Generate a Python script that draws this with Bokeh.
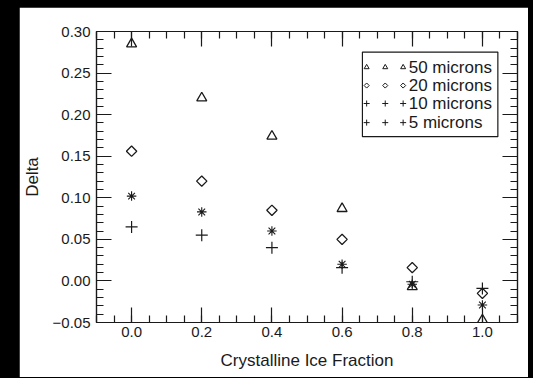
import numpy as np
from bokeh.plotting import figure
from bokeh.models import FixedTicker, LinearAxis, CustomJSTickFormatter, Range1d
from bokeh.core.properties import value
from bokeh.embed import file_html
from bokeh.resources import INLINE

# ---- data ----
ice_fraction = [0.0, 0.2, 0.4, 0.6, 0.8, 1.0]
delta_50 = [0.285, 0.220, 0.174, 0.087, -0.007, -0.047]
delta_20 = [0.156, 0.120, 0.085, 0.050, 0.016, -0.015]
delta_10 = [0.102, 0.083, 0.060, 0.020, -0.004, -0.029]
delta_5 = [0.065, 0.055, 0.040, 0.016, -0.001, -0.009]
legend_labels = ["50 microns", "20 microns", "10 microns", "5 microns"]
x_ticks = [0.0, 0.2, 0.4, 0.6, 0.8, 1.0]
y_ticks = [-0.05, 0.0, 0.05, 0.10, 0.15, 0.20, 0.25, 0.30]

FONT = "Liberation Sans"
INK = "#1a1a1a"

p = figure(width=509, height=370,
           min_border_left=76, min_border_right=11, min_border_top=24, min_border_bottom=55,
           x_range=Range1d(-0.1, 1.1), y_range=Range1d(-0.05, 0.30),
           output_backend="svg", toolbar_location=None,
           background_fill_color="white", border_fill_color="white")
p.margin = (7, 0, 0, 19)
p.grid.visible = False
p.outline_line_color = INK
p.outline_line_width = 1.2

xminor = [round(v, 2) for v in np.arange(-0.1, 1.1001, 0.05)]
yminor = [round(v, 2) for v in np.arange(-0.05, 0.3001, 0.01)]
xt = FixedTicker(ticks=x_ticks, minor_ticks=xminor)
yt = FixedTicker(ticks=y_ticks, minor_ticks=yminor)

fmt = CustomJSTickFormatter(code="return tick.toFixed(2).replace('-', '\u2212');")
xfmt = CustomJSTickFormatter(code="return tick.toFixed(1).replace('-', '\u2212');")
blank = CustomJSTickFormatter(code="return '';")

def style(ax):
    ax.axis_line_color = INK
    ax.axis_line_width = 1.2
    ax.major_tick_line_color = INK
    ax.minor_tick_line_color = INK
    ax.major_tick_line_width = 1.2
    ax.minor_tick_line_width = 1.2
    ax.major_tick_in = 15
    ax.major_tick_out = 0
    ax.minor_tick_in = 7
    ax.minor_tick_out = 0
    ax.major_label_text_font = FONT
    ax.major_label_text_font_size = "15px"
    ax.major_label_text_color = INK
    ax.axis_label_text_font = FONT
    ax.axis_label_text_font_size = "17px"
    ax.axis_label_text_font_style = "normal"
    ax.axis_label_text_color = INK

p.xaxis.ticker = xt
p.yaxis.ticker = yt
p.xaxis.formatter = xfmt
p.yaxis.formatter = fmt
p.xaxis.axis_label = "Crystalline Ice Fraction"
p.yaxis.axis_label = "Delta"
style(p.xaxis[0])
style(p.yaxis[0])
p.xaxis.major_label_standoff = 4
p.xaxis.axis_label_standoff = 11
p.yaxis.major_label_standoff = 6
p.yaxis.axis_label_standoff = 8

top = LinearAxis(ticker=xt, formatter=blank)
right = LinearAxis(ticker=yt, formatter=blank)
style(top)
style(right)
top.major_label_standoff = 0
right.major_label_standoff = 0
p.add_layout(top, "above")
p.add_layout(right, "right")

# ---- data markers ----
p.scatter(ice_fraction, delta_50, marker="triangle", size=10, fill_color=None,
          line_color=INK, line_width=1.3)
p.scatter(ice_fraction, delta_20, marker="square", angle=np.pi / 4, size=7.3,
          fill_color=None, line_color=INK, line_width=1.3)
p.scatter(ice_fraction, delta_10, marker="asterisk", size=9.5,
          line_color=INK, line_width=1.1)
p.scatter(ice_fraction, delta_5, marker="cross", size=12,
          line_color=INK, line_width=1.2)

# ---- legend (drawn by hand: three symbols per entry) ----
lg_left, lg_right, lg_top, lg_bottom = 0.658, 1.044, 0.2752, 0.1735
lg_sym_x = [0.670, 0.723, 0.774]
lg_rows = [0.257, 0.235, 0.2134, 0.1904]
lg_text_x = 0.790
p.quad(left=[lg_left], right=[lg_right], top=[lg_top], bottom=[lg_bottom],
       fill_color="white", line_color=INK, line_width=1.2)
markers = [("triangle", 5, 0.0), ("square", 3.6, np.pi / 4), ("cross", 6, 0.0), ("cross", 6, 0.0)]
for (mk, sz, ang), yrow in zip(markers, lg_rows):
    p.scatter(lg_sym_x, [yrow] * 3, marker=mk, size=sz, angle=ang,
              fill_color=None, line_color=INK, line_width=1.0)
p.text(x=[lg_text_x] * 4, y=lg_rows, text=legend_labels,
       text_font=value(FONT), text_font_size="17px", text_color=INK,
       text_baseline="middle", text_align="left")

html = file_html(p, INLINE)
css = ("<style>html, body { margin: 0 !important; padding: 0 !important; "
       "background-color: #000000 !important; overflow: hidden; }</style>")
html = html.replace("</head>", css + "</head>", 1)
open("out.html", "w").write(html)
